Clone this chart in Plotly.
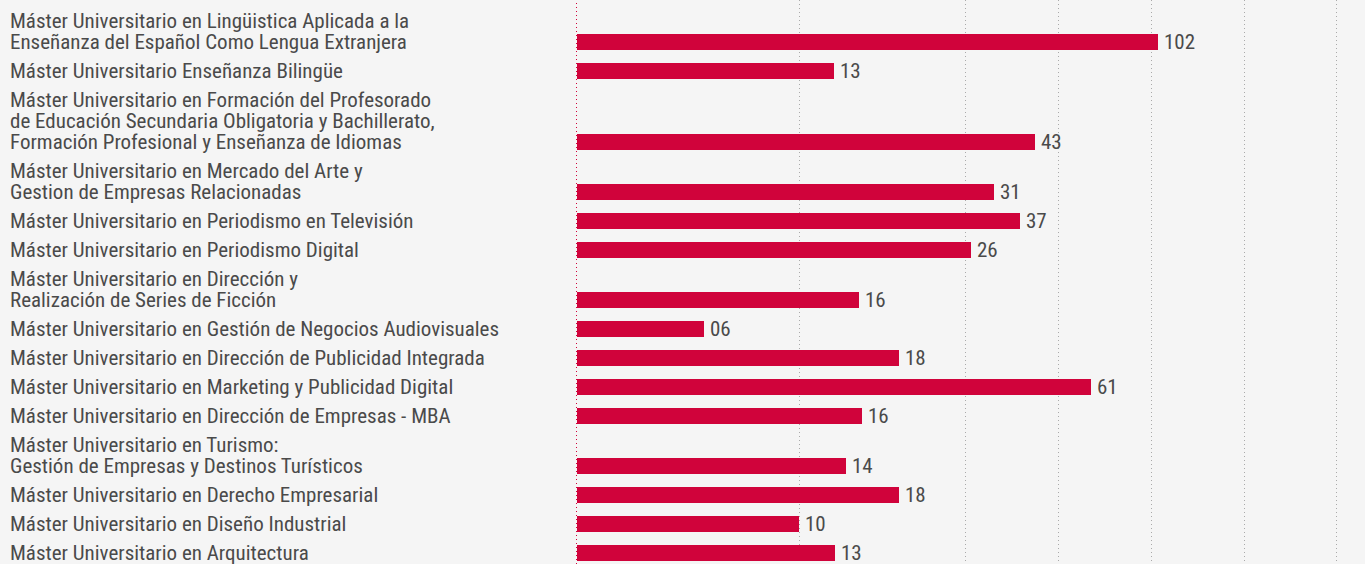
import plotly.graph_objects as go

# ---- data ----
programs = [
    ["Máster Universitario en Lingüistica Aplicada a la", "Enseñanza del Español Como Lengua Extranjera"],
    ["Máster Universitario Enseñanza Bilingüe"],
    ["Máster Universitario en Formación del Profesorado", "de Educación Secundaria Obligatoria y Bachillerato,", "Formación Profesional y Enseñanza de Idiomas"],
    ["Máster Universitario en Mercado del Arte y", "Gestion de Empresas Relacionadas"],
    ["Máster Universitario en Periodismo en Televisión"],
    ["Máster Universitario en Periodismo Digital"],
    ["Máster Universitario en Dirección y", "Realización de Series de Ficción"],
    ["Máster Universitario en Gestión de Negocios Audiovisuales"],
    ["Máster Universitario en Dirección de Publicidad Integrada"],
    ["Máster Universitario en Marketing y Publicidad Digital"],
    ["Máster Universitario en Dirección de Empresas - MBA"],
    ["Máster Universitario en Turismo:", "Gestión de Empresas y Destinos Turísticos"],
    ["Máster Universitario en Derecho Empresarial"],
    ["Máster Universitario en Diseño Industrial"],
    ["Máster Universitario en Arquitectura"],
]
value_labels = ["102", "13", "43", "31", "37", "26", "16", "06", "18", "61", "16", "14", "18", "10", "13"]
bar_values = [102, 45.1, 80.4, 73.2, 77.8, 69.2, 49.5, 22.3, 56.5, 90.2, 50.0, 47.2, 56.5, 39.0, 45.3]
grid_values = [39.0, 68.2, 84.6, 100.9, 117.2, 133.3]

# ---- style ----
BAR_COLOR = "#d0033b"
TEXT_COLOR = "#4a4a4a"
BG = "#f5f5f5"
FONT = "Roboto Condensed, Liberation Sans Narrow, Roboto, sans-serif"
LINE_H = 21   # spacing between lines of one label
ROW_GAP = 29  # spacing between last line of a row and first line of next
FIRST_LINE = 21

# row positions derived from number of label lines
centers = []
line_pos = []
prev = FIRST_LINE - ROW_GAP
for lines in programs:
    first = prev + ROW_GAP
    ys = [first + LINE_H * k for k in range(len(lines))]
    line_pos.append(ys)
    centers.append(ys[-1])
    prev = ys[-1]

fig = go.Figure()
fig.add_trace(go.Bar(
    x=bar_values, y=centers, orientation="h", width=16,
    marker=dict(color=BAR_COLOR, line=dict(width=0)),
    hoverinfo="skip", showlegend=False,
))

W, H = 1365, 564
ML, MR = 577, 19
plot_w = W - ML - MR
XMAX = 135

annotations = []
for lines, ys in zip(programs, line_pos):
    for txt, yy in zip(lines, ys):
        annotations.append(dict(
            x=(8 - ML) / plot_w, xref="paper", y=yy, yref="y",
            text=txt, showarrow=False, xanchor="left", yanchor="middle",
            align="left", font=dict(family=FONT, size=21, color=TEXT_COLOR),
        ))
for v, lab, yy in zip(bar_values, value_labels, centers):
    annotations.append(dict(
        x=v, xref="x", y=yy, yref="y", text=lab, showarrow=False,
        xanchor="left", yanchor="middle", xshift=4,
        font=dict(family=FONT, size=21, color=TEXT_COLOR),
    ))

zx = -0.5 / plot_w  # centre the 1px zero line on the pixel just left of the bars
fig.update_layout(
    width=W, height=H,
    margin=dict(l=ML, r=MR, t=0, b=0, pad=0),
    paper_bgcolor=BG, plot_bgcolor=BG,
    annotations=annotations,
    xaxis=dict(range=[0, XMAX], tickvals=grid_values, showticklabels=False,
               showgrid=True, gridcolor="#aaaaaa", gridwidth=1, griddash="1px,3px",
               zeroline=False, showline=False, ticks="", fixedrange=True),
    yaxis=dict(range=[H, 0], showgrid=False, zeroline=False, showticklabels=False,
               showline=False, ticks="", fixedrange=True),
    shapes=[dict(type="line", xref="paper", yref="paper", x0=zx, x1=zx, y0=0, y1=1,
                 line=dict(color=BAR_COLOR, width=1, dash="1px,3px"), layer="above")],
    bargap=0,
)

fig.write_html(
    "out.html",
    config={"displayModeBar": False},
    post_script="document.body.style.margin='0';document.body.style.background='%s';" % BG,
)
